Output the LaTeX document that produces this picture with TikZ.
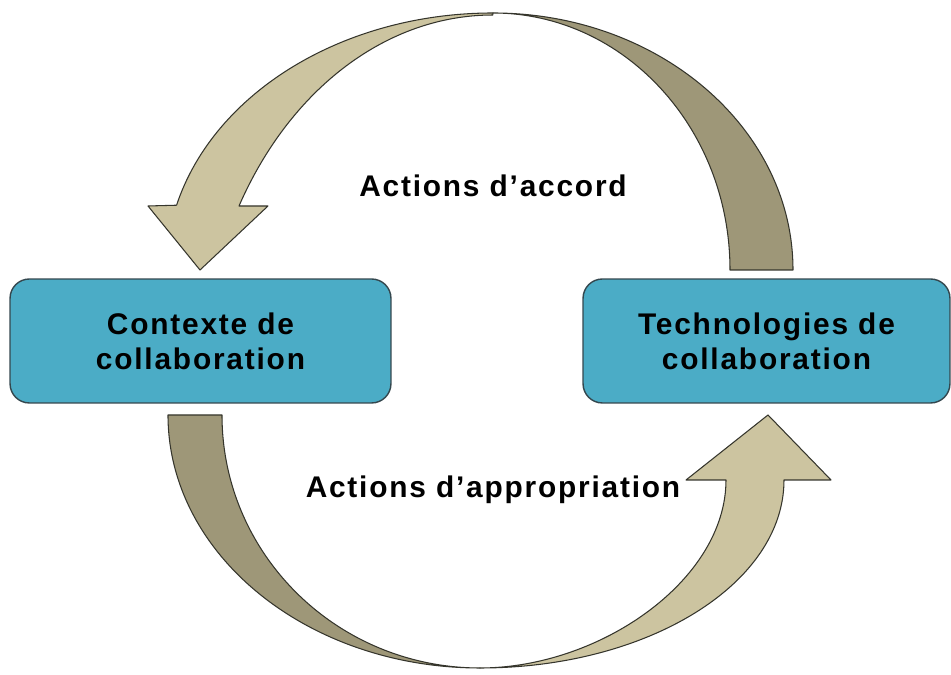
\documentclass[tikz,border=0pt]{standalone}
\usepackage{fontspec}
\setmainfont{Liberation Sans}[LetterSpace=6]
\definecolor{boxblue}{HTML}{4BACC6}
\definecolor{boxline}{HTML}{34474E}
\definecolor{tanlight}{HTML}{CCC4A0}
\definecolor{tandark}{HTML}{9E9778}
\definecolor{bandline}{HTML}{35352C}
\begin{document}
\begin{tikzpicture}
    [x=0.02cm,y=0.02cm,
     box/.style={draw=boxline,fill=boxblue,rounded corners=11pt,line width=0.8pt,
       minimum height=2.48cm,align=center,font=\bfseries\fontsize{17}{20}\selectfont},
     band/.style={draw=bandline,line width=0.6pt,line join=round},
     lbl/.style={font=\bfseries\fontsize{17}{20}\selectfont}]
    \useasboundingbox (0,0) rectangle (951,675);
    \node [box,minimum width=7.62cm] (ctx) at (200.5,334) {Contexte de\\collaboration};
    \node [box,minimum width=7.34cm] (tech) at (766.5,334) {Technologies de\\collaboration};
    \node [lbl] (accord) at (493,489) {Actions d’accord};
    \node [lbl] (approp) at (493,185) {Actions d’appropriation};
    \coordinate (top) at (493,662);
    \coordinate (tipctx) at (200,405);
    \coordinate (bot) at (480,7);
    \coordinate (tiptech) at (768,260);
    \draw [band,fill=tandark] (793,405) arc[start angle=0,end angle=90,x radius=300,y radius=257]
      -- (top) arc[start angle=90,end angle=0,x radius=237,y radius=257] -- cycle;
    \draw [band,fill=tanlight] (top) arc[start angle=90,end angle=165.4,x radius=327,y radius=257]
      -- (148,469) -- (tipctx) -- (268,469) -- (239,469)
      arc[start angle=150.7,end angle=90,x radius=291,y radius=374] -- cycle;
    \draw [band,fill=tandark] (168,260) arc[start angle=180,end angle=270,x radius=312,y radius=253]
      -- (bot) arc[start angle=270,end angle=180,x radius=258,y radius=253] -- cycle;
    \draw [band,fill=tanlight] (bot) arc[start angle=270,end angle=360,x radius=304,y radius=188]
      -- (831,195) -- (tiptech) -- (686,195) -- (726,195)
      .. controls (726,95) and (600,7) .. (bot) -- cycle;
\end{tikzpicture}
\end{document}
